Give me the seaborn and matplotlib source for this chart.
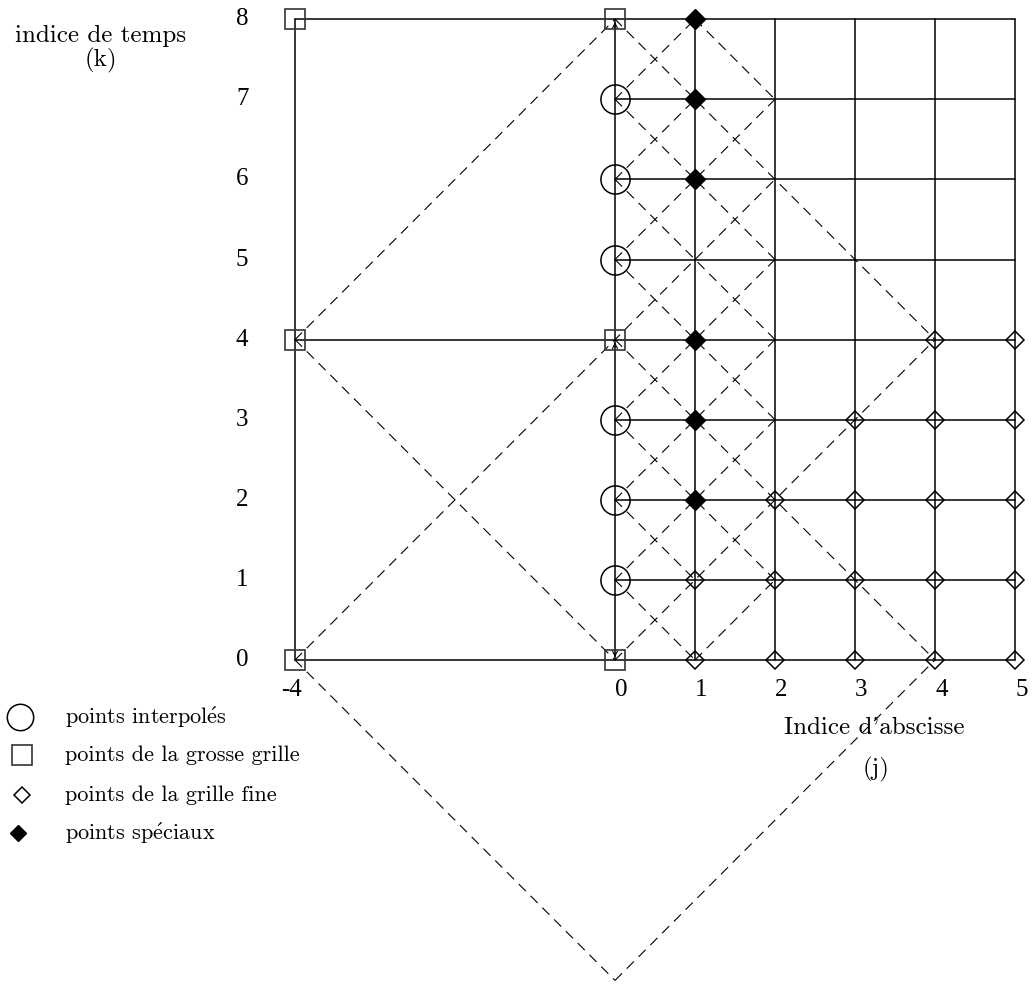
import matplotlib
matplotlib.use("Agg")
import matplotlib.pyplot as plt
import pandas as pd
import seaborn as sns

# ---- data ---------------------------------------------------------------
# coarse grid (j = -4, 0 ; k = 0, 4, 8) and fine grid (j = 0..5 ; k = 0..8)
coarse_j = [-4, 0]
coarse_k = [0, 4, 8]
fine_j = [0, 1, 2, 3, 4, 5]
fine_k = [0, 1, 2, 3, 4, 5, 6, 7, 8]

# interpolated points sit on j = 0
interp_k = [1, 2, 3, 5, 6, 7]
# special points sit on j = 1
special_k = [2, 3, 4, 6, 7, 8]
# fine grid points: highest k reached for each j
fine_pts_j = [1, 2, 3, 4, 5]
fine_pts_kmax = [1, 2, 3, 4, 4]

# characteristics (dashed), as (j0, k0, j1, k1)
diag_up = [(-4, 4, 0, 8), (0, 7, 1, 8), (0, 6, 1, 7), (0, 5, 2, 7),
           (-4, 0, 2, 6), (0, 3, 2, 5), (0, 2, 2, 4), (0, 1, 2, 3),
           (0, 0, 4, 4), (1, 0, 2, 1), (0, -4, 4, 0)]
diag_down = [(-4, 0, 0, -4), (-4, 4, 0, 0), (0, 1, 1, 0), (0, 2, 1, 1),
             (0, 3, 2, 1), (0, 4, 4, 0), (0, 5, 2, 3), (0, 6, 2, 4),
             (0, 7, 2, 5), (0, 8, 4, 4), (1, 8, 2, 7)]

ytick_vals = [0, 1, 2, 3, 4, 5, 6, 7, 8]
xtick_vals = [-4, 0, 1, 2, 3, 4, 5]
xtick_labels = ["-4", "0", "1", "2", "3", "4", "5"]

legend_labels = [r"points interpol$\acute{\mathrm{e}}$s", "points de la grosse grille",
                 "points de la grille fine", r"points sp$\acute{\mathrm{e}}$ciaux"]


def seg_frame(segs):
    rows = []
    for i, (x0, y0, x1, y1) in enumerate(segs):
        rows.append({"seg": i, "j": x0, "k": y0})
        rows.append({"seg": i, "j": x1, "k": y1})
    return pd.DataFrame(rows)


solid = []
for k in coarse_k:
    solid.append((coarse_j[0], k, fine_j[-1], k))
for k in fine_k:
    if k not in coarse_k:
        solid.append((fine_j[0], k, fine_j[-1], k))
solid.append((coarse_j[0], coarse_k[0], coarse_j[0], coarse_k[-1]))
for j in fine_j:
    solid.append((j, fine_k[0], j, fine_k[-1]))

solid_df = seg_frame(solid)
dash_df = seg_frame(diag_up + diag_down)

coarse_df = pd.DataFrame([(j, k) for j in coarse_j for k in coarse_k], columns=["j", "k"])
interp_df = pd.DataFrame({"j": 0, "k": interp_k})
special_df = pd.DataFrame({"j": 1, "k": special_k})
fine_df = pd.DataFrame([(j, k) for j, km in zip(fine_pts_j, fine_pts_kmax)
                        for k in range(km + 1)], columns=["j", "k"])

# ---- figure -------------------------------------------------------------
sns.set_theme(style="white")
plt.rcParams["font.family"] = ["cmr10", "DejaVu Serif"]
plt.rcParams["mathtext.fontset"] = "cm"
plt.rcParams["axes.formatter.use_mathtext"] = True


def px(xp, yp):
    return (xp - 615) / 80, (660 - yp) / 80.1


fig = plt.figure(figsize=(10.32, 9.84), dpi=100)
ax = fig.add_axes([0, 0, 1, 1])
ax.set_xlim(-615 / 80, (1032 - 615) / 80)
ax.set_ylim((660 - 984) / 80.1, 660 / 80.1)
ax.axis("off")

sns.lineplot(data=solid_df, x="j", y="k", units="seg", estimator=None, sort=False,
             color="black", lw=1.1, ax=ax, legend=False)
sns.lineplot(data=dash_df, x="j", y="k", units="seg", estimator=None, sort=False,
             color="black", lw=0.8, linestyle=(0, (9, 6)), ax=ax, legend=False)

ax.plot(coarse_df["j"], coarse_df["k"], ls="none", marker="s", ms=15,
        mfc="none", mec="#333333", mew=1.2, zorder=5)
ax.plot(interp_df["j"], interp_df["k"], ls="none", marker="o", ms=21,
        mfc="none", mec="black", mew=1.1, zorder=5)
ax.plot(fine_df["j"], fine_df["k"], ls="none", marker="D", ms=9.5,
        mfc="none", mec="black", mew=1.1, zorder=5)
ax.plot(special_df["j"], special_df["k"], ls="none", marker="D", ms=10,
        mfc="black", mec="black", zorder=6)

# small arrowheads on the j = 0 line
for tip, tail in [((0, 8), (0, 7.85)), ((0, 4), (0, 3.88)), ((0, 0), (0, 0.12))]:
    ax.annotate("", xy=tip, xytext=tail,
                arrowprops=dict(arrowstyle="->", lw=0.8, mutation_scale=9, color="black"))

# tick labels
tick_font = dict(family="Liberation Serif", size=18, color="black")
for v in ytick_vals:
    ax.text(-4.66, v, str(v), ha="center", va="center", **tick_font)
for v, lab in zip(xtick_vals, xtick_labels):
    off = -0.05 if v < 0 else 0.08
    ax.text(v + off, -0.37, lab, ha="center", va="center", **tick_font)

# axis titles
title_font = dict(size=18, color="black")
ax.text(*px(101, 36), "indice de temps", ha="center", va="center", **title_font)
ax.text(*px(101, 60), "(k)", ha="center", va="center", **title_font)
ax.text(*px(874, 728), "Indice d'abscisse", ha="center", va="center", **title_font)
ax.text(*px(876, 769), "(j)", ha="center", va="center", **title_font)

# legend
leg_font = dict(size=16, color="black")
leg_markers = [dict(marker="o", ms=19, mfc="none", mec="black", mew=1.1),
               dict(marker="s", ms=14, mfc="none", mec="#333333", mew=1.2),
               dict(marker="D", ms=8, mfc="none", mec="black", mew=1.1),
               dict(marker="D", ms=8.5, mfc="black", mec="black")]
leg_y = [717, 755, 795, 833]
leg_x = [20, 22, 22, 18]
for mk, lab, xp, yp in zip(leg_markers, legend_labels, leg_x, leg_y):
    ax.plot(*[[c] for c in px(xp, yp)], ls="none", clip_on=False, **mk)
    ax.text(*px(65, yp), lab, ha="left", va="center", **leg_font)

fig.savefig("out.png", dpi=100, facecolor="white")
